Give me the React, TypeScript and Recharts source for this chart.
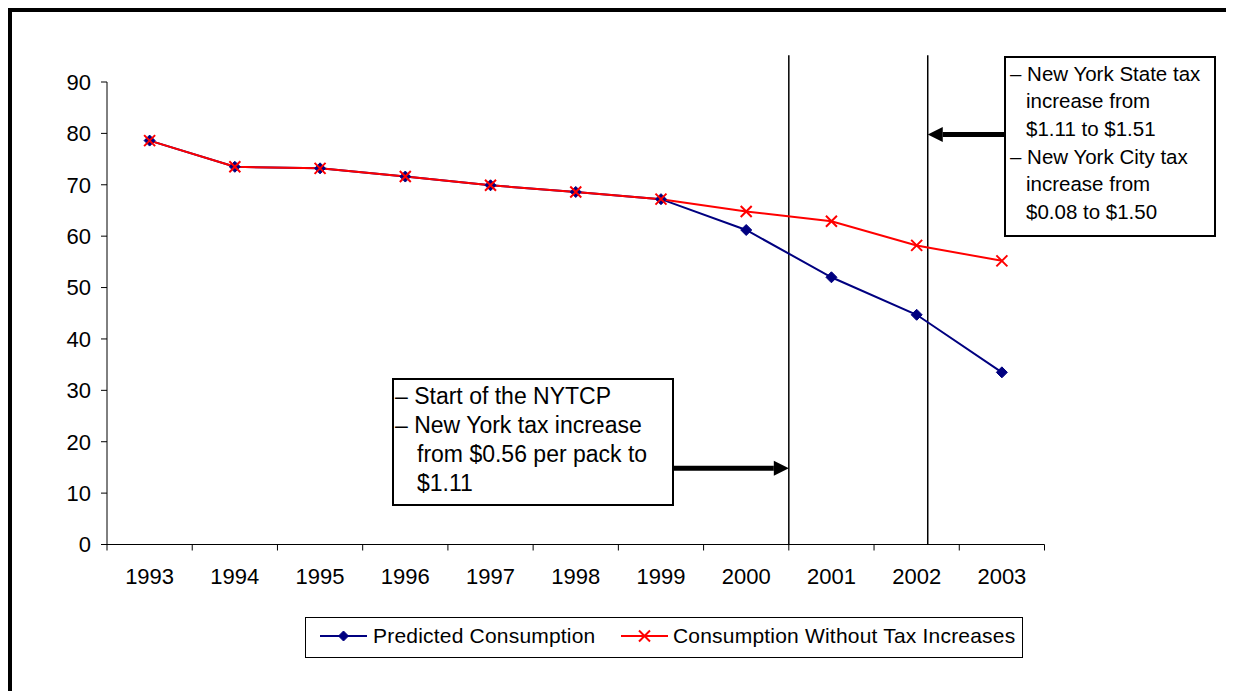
import React from 'react';
import { LineChart, Line, XAxis, YAxis, ReferenceLine, Legend } from 'recharts';

const FONT = '"Liberation Sans", Arial, sans-serif';

// ---- data ----
const years = [1993, 1994, 1995, 1996, 1997, 1998, 1999, 2000, 2001, 2002, 2003];
const predicted = [78.6, 73.5, 73.2, 71.6, 69.9, 68.6, 67.2, 61.2, 52.0, 44.7, 33.5];
const withoutTax = [78.6, 73.5, 73.2, 71.6, 69.9, 68.6, 67.2, 64.8, 62.9, 58.2, 55.2];
const yTicks = [0, 10, 20, 30, 40, 50, 60, 70, 80, 90];
const yearBoundaries = [1992.5, 1993.5, 1994.5, 1995.5, 1996.5, 1997.5, 1998.5, 1999.5, 2000.5, 2001.5, 2002.5, 2003.5];
const seriesNames = ['Predicted Consumption', 'Consumption Without Tax Increases'];

// event markers (in data units)
const eventLines = [2000.5, 2002.13];
const eventLineTop = 95.2;
const arrowNYTCP = { from: 1999.14, to: 2000.5, y: 14.85 };
const arrowCity = { from: 2003.03, to: 2002.13, y: 79.8 };

const noteNYTCP = [
  { text: '– Start of the NYTCP', indent: false },
  { text: '– New York tax increase', indent: false },
  { text: 'from $0.56 per pack to', indent: true },
  { text: '$1.11', indent: true },
];
const noteCity = [
  { text: '– New York State tax', indent: false },
  { text: 'increase from', indent: true },
  { text: '$1.11 to $1.51', indent: true },
  { text: '– New York City tax', indent: false },
  { text: 'increase from', indent: true },
  { text: '$0.08 to $1.50', indent: true },
];

const data = years.map((year, i) => ({ year, predicted: predicted[i], withoutTax: withoutTax[i] }));
const xTickValues = [...yearBoundaries, ...years].sort((a, b) => a - b);

const BLUE = '#000080';
const RED = '#FF0000';

const Diamond = ({ cx, cy, r = 5 }: any) => {
  if (cx == null || cy == null) return null;
  return <path d={`M${cx},${cy - r}L${cx + r},${cy}L${cx},${cy + r}L${cx - r},${cy}Z`} fill={BLUE} stroke={BLUE} strokeWidth={1} />;
};

const Cross = ({ cx, cy, r = 5.5 }: any) => {
  if (cx == null || cy == null) return null;
  return (
    <path d={`M${cx - r},${cy - r}L${cx + r},${cy + r}M${cx - r},${cy + r}L${cx + r},${cy - r}`} stroke={RED} strokeWidth={2} fill="none" />
  );
};

const XTick = (props: any) => {
  const { x, y, payload } = props;
  const v = payload.value;
  if (Number.isInteger(v)) {
    return (
      <text x={x} y={y + 39.5} textAnchor="middle" fontSize={22} fontFamily={FONT} fill="#000">
        {v}
      </text>
    );
  }
  return <line x1={x} y1={y} x2={x} y2={y + 6} stroke="#000" strokeWidth={1} />;
};

const ArrowShape = (props: any) => {
  const { x1, y1, x2 } = props;
  if (x1 == null || x2 == null) return null;
  const dir = x2 > x1 ? 1 : -1;
  const head = 15;
  const half = 7.5;
  const base = x2 - dir * head;
  return (
    <g>
      <line x1={x1} y1={y1} x2={base} y2={y1} stroke="#000" strokeWidth={5} />
      <polygon points={`${x2},${y1} ${base},${y1 - half} ${base},${y1 + half}`} fill="#000" />
    </g>
  );
};

const LegendIcon = ({ kind }: { kind: 'diamond' | 'cross' }) => (
  <svg width={47} height={16} style={{ display: 'block' }}>
    <line x1={0} y1={8} x2={47} y2={8} stroke={kind === 'diamond' ? BLUE : RED} strokeWidth={2} />
    {kind === 'diamond' ? <Diamond cx={23.5} cy={8} r={5} /> : <Cross cx={23.5} cy={8} r={5.5} />}
  </svg>
);

const renderLegend = () => (
  <div
    style={{
      position: 'relative',
      width: 718,
      height: 41,
      border: '1px solid #000',
      boxSizing: 'border-box',
      background: '#fff',
      fontFamily: FONT,
      fontSize: 21,
      letterSpacing: 0.2,
      color: '#000',
    }}
  >
    <div style={{ position: 'absolute', left: 14, top: 0, height: 35, display: 'flex', alignItems: 'center', whiteSpace: 'nowrap' }}>
      <LegendIcon kind="diamond" />
      <span style={{ marginLeft: 6 }}>{seriesNames[0]}</span>
    </div>
    <div style={{ position: 'absolute', left: 315, top: 0, height: 35, display: 'flex', alignItems: 'center', whiteSpace: 'nowrap' }}>
      <LegendIcon kind="cross" />
      <span style={{ marginLeft: 5 }}>{seriesNames[1]}</span>
    </div>
  </div>
);

const NoteBox = ({ lines, style, fontSize, lineHeight, indent }: any) => (
  <div
    style={{
      position: 'absolute',
      border: '2px solid #000',
      boxSizing: 'border-box',
      background: '#fff',
      fontFamily: FONT,
      fontSize,
      lineHeight: `${lineHeight}px`,
      color: '#000',
      whiteSpace: 'nowrap',
      ...style,
    }}
  >
    {lines.map((l: any, i: number) => (
      <div key={i} style={{ paddingLeft: l.indent ? indent : 0 }}>
        {l.text}
      </div>
    ))}
  </div>
);

export default function App() {
  return (
    <div style={{ position: 'relative', width: 1226, height: 683, background: '#fff', overflow: 'hidden' }}>
      <LineChart
        width={1226}
        height={683}
        data={data}
        margin={{ top: 74, right: 189.5, bottom: 106.5, left: 0 }}
      >
        <XAxis
          type="number"
          dataKey="year"
          domain={[1992.5, 2003.5]}
          ticks={xTickValues}
          interval={0}
          tickLine={false}
          tickSize={0}
          tickMargin={0}
          tick={<XTick />}
          axisLine={{ stroke: '#000', strokeWidth: 1 }}
          height={40}
        />
        <YAxis
          type="number"
          domain={[0, 90]}
          ticks={yTicks}
          interval={0}
          width={99}
          tickSize={6}
          tickMargin={10}
          axisLine={{ stroke: '#000', strokeWidth: 1 }}
          tickLine={{ stroke: '#000', strokeWidth: 1 }}
          tick={{ fontSize: 22, fontFamily: FONT, fill: '#000' }}
        />
        {eventLines.map((x) => (
          <ReferenceLine
            key={x}
            segment={[{ x, y: 0 }, { x, y: eventLineTop }]}
            stroke="#000"
            strokeWidth={1.5}
            ifOverflow="visible"
          />
        ))}
        <ReferenceLine
          segment={[{ x: arrowNYTCP.from, y: arrowNYTCP.y }, { x: arrowNYTCP.to, y: arrowNYTCP.y }]}
          ifOverflow="visible"
          shape={ArrowShape}
        />
        <ReferenceLine
          segment={[{ x: arrowCity.from, y: arrowCity.y }, { x: arrowCity.to, y: arrowCity.y }]}
          ifOverflow="visible"
          shape={ArrowShape}
        />
        <Line
          type="linear"
          dataKey="predicted"
          name={seriesNames[0]}
          stroke={BLUE}
          strokeWidth={2}
          dot={(p: any) => <Diamond key={`d${p.index}`} cx={p.cx} cy={p.cy} r={5.5} />}
          activeDot={false}
          isAnimationActive={false}
        />
        <Line
          type="linear"
          dataKey="withoutTax"
          name={seriesNames[1]}
          stroke={RED}
          strokeWidth={2}
          dot={(p: any) => <Cross key={`c${p.index}`} cx={p.cx} cy={p.cy} r={5.5} />}
          activeDot={false}
          isAnimationActive={false}
        />
        <Legend
          layout="horizontal"
          verticalAlign="middle"
          align="center"
          wrapperStyle={{ left: 297, top: 609, width: 718, height: 41 }}
          content={renderLegend}
        />
      </LineChart>
      <NoteBox
        lines={noteNYTCP}
        fontSize={23}
        lineHeight={29}
        indent={22}
        style={{ left: 384, top: 370, width: 282, height: 128, padding: '2px 0 0 1px' }}
      />
      <NoteBox
        lines={noteCity}
        fontSize={20.5}
        lineHeight={27.7}
        indent={16}
        style={{ left: 996, top: 47.5, width: 212, height: 181, padding: '2px 0 0 4px' }}
      />
      <div style={{ position: 'absolute', left: 0, top: 0, width: 1226, height: 4, background: '#000' }} />
      <div style={{ position: 'absolute', left: 0, top: 0, width: 4, height: 683, background: '#000' }} />
    </div>
  );
}
